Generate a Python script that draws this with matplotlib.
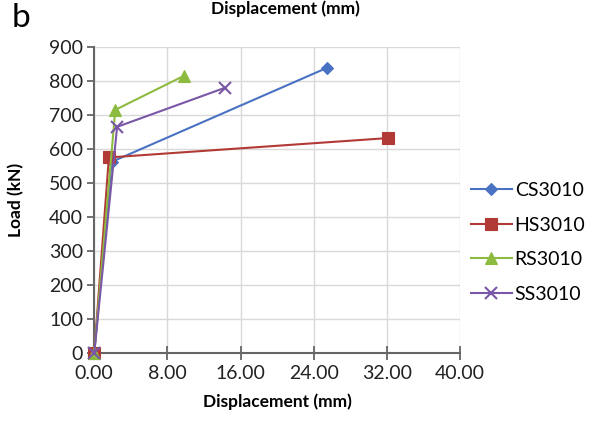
import matplotlib.pyplot as plt

# Load-displacement data
cs_disp = [0.0, 1.9, 25.4]
cs_load = [0, 562, 838]
hs_disp = [0.0, 1.6, 32.1]
hs_load = [0, 575, 632]
rs_disp = [0.0, 2.3, 9.8]
rs_load = [0, 715, 815]
ss_disp = [0.0, 2.5, 14.3]
ss_load = [0, 665, 780]

x_ticks = [0, 8, 16, 24, 32, 40]
y_ticks = [0, 100, 200, 300, 400, 500, 600, 700, 800, 900]

plt.rcParams['font.family'] = ['Lato', 'DejaVu Sans']

fig = plt.figure(figsize=(5.89, 4.23), dpi=100)
ax = fig.add_axes([0.16, 0.1655, 0.621, 0.7235])

series = [
    ("CS3010", cs_disp, cs_load, '#4A72C2', 'D', 6),
    ("HS3010", hs_disp, hs_load, '#B23A36', 's', 8),
    ("RS3010", rs_disp, rs_load, '#8DBB3F', '^', 8),
    ("SS3010", ss_disp, ss_load, '#7A56A6', 'x', 9),
]
for name, xs, ys, color, marker, ms in series:
    ax.plot(xs, ys, color=color, lw=1.5, marker=marker, markersize=ms,
            markeredgewidth=1.5 if marker == 'x' else 0.8, label=name,
            clip_on=False, zorder=3)

ax.set_xlim(0, 40)
ax.set_ylim(0, 900)
ax.set_xticks(x_ticks)
ax.set_xticklabels([f"{v:.2f}" for v in x_ticks])
ax.set_yticks(y_ticks)
ax.grid(True, color='#d9d9d9', lw=1)
ax.set_axisbelow(True)
for side in ['top', 'right']:
    ax.spines[side].set_visible(False)
for side in ['left', 'bottom']:
    ax.spines[side].set_color('#666666')
    ax.spines[side].set_linewidth(1.5)
ax.tick_params(axis='both', length=5, width=1.3, color='#666666',
               labelsize=14, labelcolor='#222222')
ax.tick_params(axis='x', direction='inout', length=10, pad=4)
ax.tick_params(axis='y', direction='out', pad=3)

ax.set_xlabel("Displacement (mm)", fontsize=12.5, fontweight='bold', labelpad=8)
ax.set_ylabel("Load (kN)", fontsize=12.5, fontweight='bold', labelpad=18)

## Legend sits outside the plot area on the right, no frame
ax.legend(loc='center left', bbox_to_anchor=(1.03, 0.361), frameon=False,
          fontsize=14, handlelength=2.1, handletextpad=0.15, labelspacing=0.9,
          borderpad=0, borderaxespad=0)

# Panel letter and cropped header text from the previous panel
fig.text(0.02, 0.935, "b", fontsize=24)
fig.text(0.485, 1.0, "Displacement (mm)", fontsize=12.5, fontweight='bold',
         ha='center', va='top')

fig.savefig("out.png", dpi=100)
